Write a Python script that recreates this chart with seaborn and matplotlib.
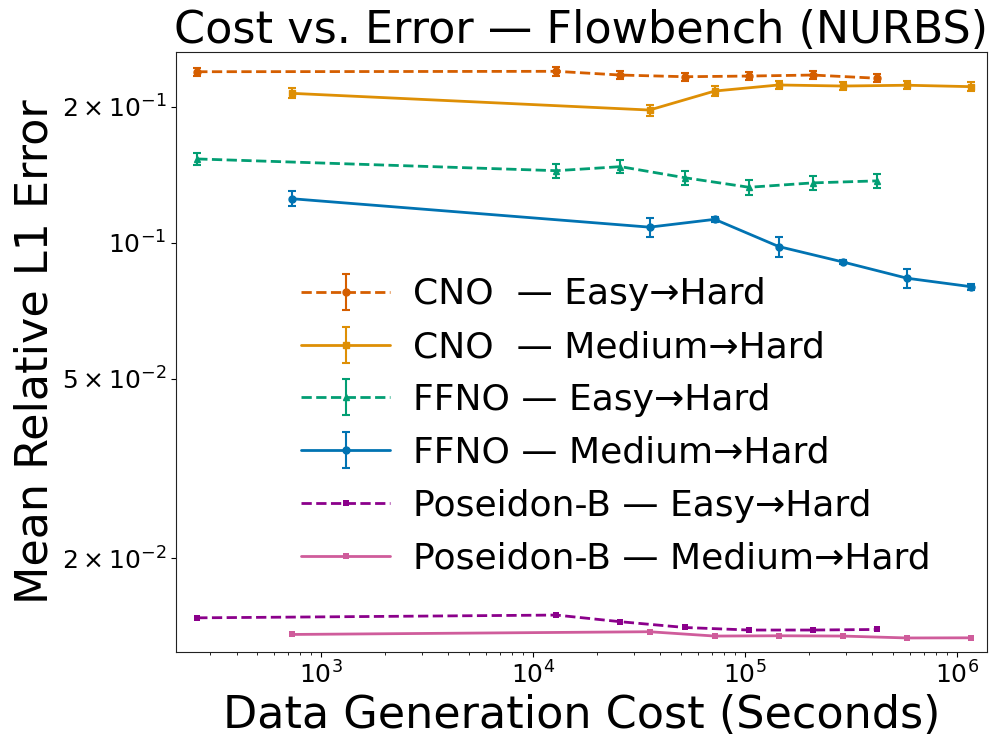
import numpy as np
import matplotlib
matplotlib.use("Agg")
import matplotlib.pyplot as plt
import matplotlib.ticker as mticker
import seaborn as sns
import pandas as pd

# ---- data ----
easy_cost = [261, 12900, 25900, 52200, 104600, 209000, 421000]
medium_cost = [727, 35500, 72100, 144600, 290000, 582000, 1160000]

cno_easy = [0.2390, 0.2395, 0.2350, 0.2330, 0.2338, 0.2350, 0.2312]
cno_easy_err = [0.0052, 0.0055, 0.0045, 0.0045, 0.0045, 0.0045, 0.0045]
cno_med = [0.2141, 0.1966, 0.2166, 0.2234, 0.2222, 0.2231, 0.2215]
cno_med_err = [0.0055, 0.0055, 0.0055, 0.0045, 0.0045, 0.0045, 0.0050]
ffno_easy = [0.1532, 0.1443, 0.1473, 0.1392, 0.1326, 0.1356, 0.1370]
ffno_easy_err = [0.0047, 0.0050, 0.0050, 0.0050, 0.0050, 0.0050, 0.0050]
ffno_med = [0.1251, 0.1082, 0.1126, 0.0980, 0.0906, 0.0834, 0.0799]
ffno_med_err = [0.0047, 0.0052, 0.0015, 0.0050, 0.0008, 0.0040, 0.0012]
pos_easy = [0.01476, 0.01497, 0.01447, 0.01405, 0.01387, 0.01387, 0.01391]
pos_med = [0.01356, 0.01375, 0.01345, 0.01347, 0.01345, 0.01332, 0.01333]

labels = ["CNO  — Easy→Hard", "CNO  — Medium→Hard",
          "FFNO — Easy→Hard", "FFNO — Medium→Hard",
          "Poseidon-B — Easy→Hard", "Poseidon-B — Medium→Hard"]
ytick_vals = [0.02, 0.05, 0.1, 0.2]
ytick_labels = [r"$2\times10^{-2}$", r"$5\times10^{-2}$", r"$10^{-1}$", r"$2\times10^{-1}$"]

sns.set_style("ticks", {"text.color": "black", "axes.labelcolor": "black",
                        "xtick.color": "black", "ytick.color": "black",
                        "axes.edgecolor": "#222222"})
plt.rcParams['font.family'] = ['DejaVu Sans']
plt.rcParams.update({"xtick.major.size": 3.5, "ytick.major.size": 3.5,
                     "xtick.minor.size": 2, "ytick.minor.size": 2})

pal = sns.color_palette("colorblind")
c_cno_e = pal[3]   # vermillion
c_cno_m = pal[1]   # orange
c_ffno_e = pal[2]  # green
c_ffno_m = pal[0]  # blue
c_pos_e = "#8B008B"
c_pos_m = "#CF5C9B"

fig = plt.figure(figsize=(9.97, 7.44), dpi=100)
ax = fig.add_axes([176.3/997, 1-652/744, (986.5-176.3)/997, (652-52)/744])

kw = dict(linewidth=2, markersize=5, capsize=3, elinewidth=1.5, capthick=1.5)
h1 = ax.errorbar(easy_cost, cno_easy, yerr=cno_easy_err, color=c_cno_e, ls="--", marker="o", **kw)
h2 = ax.errorbar(medium_cost, cno_med, yerr=cno_med_err, color=c_cno_m, ls="-", marker="s", **kw)
h3 = ax.errorbar(easy_cost, ffno_easy, yerr=ffno_easy_err, color=c_ffno_e, ls="--", marker="^", **kw)
h4 = ax.errorbar(medium_cost, ffno_med, yerr=ffno_med_err, color=c_ffno_m, ls="-", marker="o", **kw)

df_pe = pd.DataFrame({"cost": easy_cost, "err": pos_easy})
df_pm = pd.DataFrame({"cost": medium_cost, "err": pos_med})
sns.lineplot(data=df_pe, x="cost", y="err", ax=ax, color=c_pos_e, linestyle="--",
             marker="s", markersize=5, markeredgewidth=0, linewidth=2, label=labels[4])
sns.lineplot(data=df_pm, x="cost", y="err", ax=ax, color=c_pos_m, linestyle="-",
             marker="s", markersize=5, markeredgewidth=0, linewidth=2, label=labels[5])
h5, h6 = ax.lines[-2], ax.lines[-1]

ax.set_xscale("log")
ax.set_yscale("log")
ax.set_xlim(208, 1.38e6)
ax.set_ylim(0.0124, 0.2643)
ax.yaxis.set_major_locator(mticker.FixedLocator(ytick_vals))
ax.yaxis.set_major_formatter(mticker.FixedFormatter(ytick_labels))
ax.yaxis.set_minor_locator(mticker.NullLocator())
ax.tick_params(axis="x", which="major", labelsize=18)
ax.tick_params(axis="y", which="major", labelsize=18)

ax.set_xlabel("Data Generation Cost (Seconds)", fontsize=32)
ax.set_ylabel("Mean Relative L1 Error", fontsize=32)
ax.set_title("Cost vs. Error — Flowbench (NURBS)", fontsize=32)

ax.legend([h1, h2, h3, h4, h5, h6], labels, loc="center", bbox_to_anchor=(0.543, 0.376),
          frameon=False, fontsize=26, handlelength=2.46, handletextpad=0.64,
          labelspacing=0.52)

fig.savefig("out.png", dpi=100)
